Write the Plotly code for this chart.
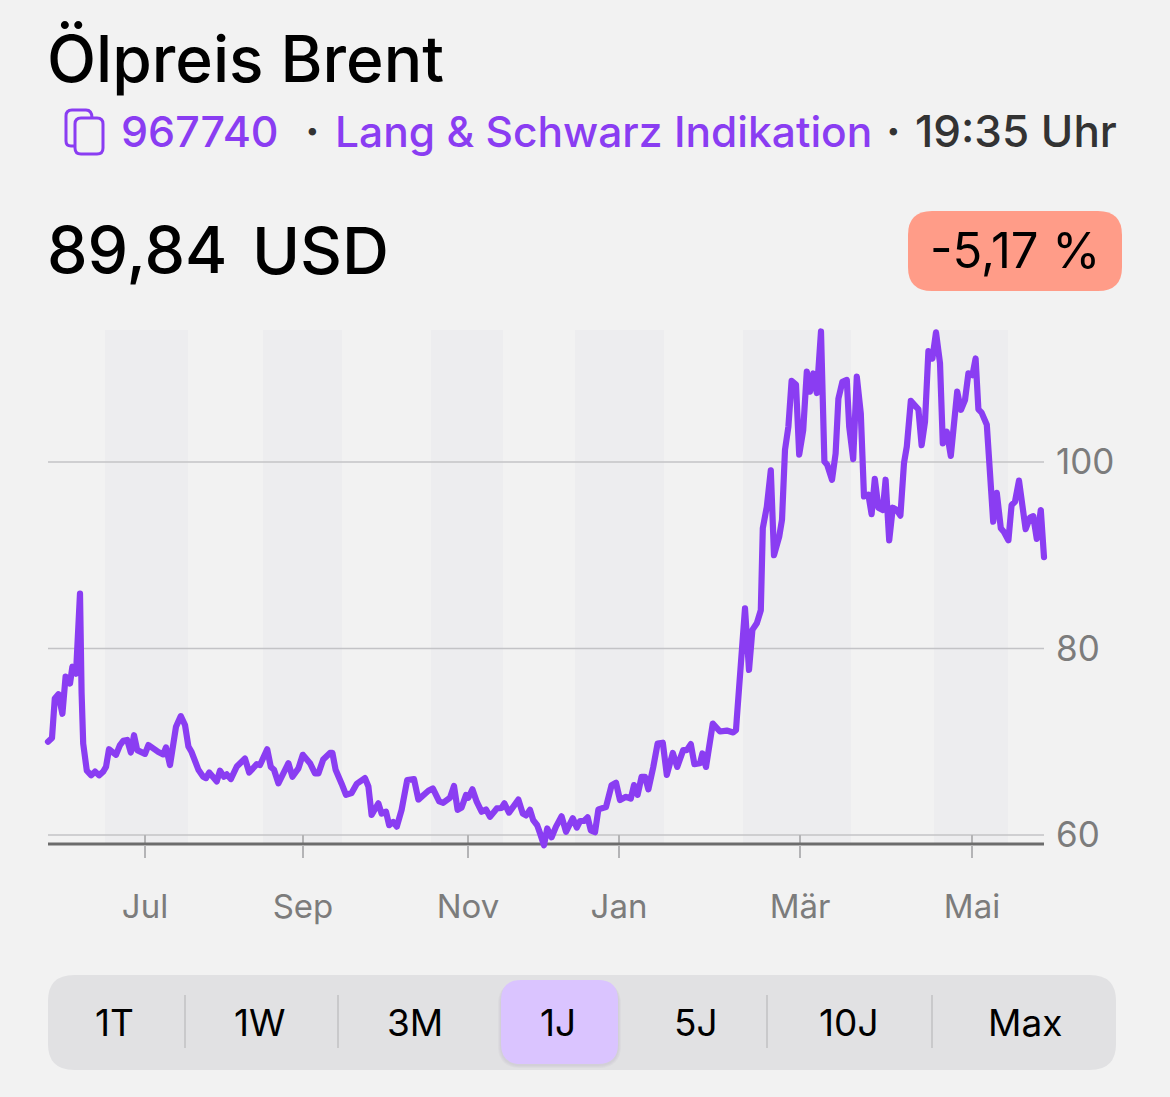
import plotly.graph_objects as go

W = 1170
H = 1097

# trading day position along the axis and brent price
days = [0, 1, 1.7, 2.6, 3.6, 4.4, 5.5, 6.1, 7, 8, 8.4, 8.8, 9.7, 10.8, 11.75, 12.75, 13.8, 14.5, 15.25, 17,
        18, 18.8, 19.8, 20.7, 21.5, 22.3, 24.25, 25.1, 27.6, 28.8, 29.5, 30.5, 32, 33.2, 34.25, 35.1, 35.9, 37.6, 38.8, 39.5,
        40.3, 42.2, 43, 44, 44.7, 45.7, 47.2, 49.25, 50.3, 52.2, 53, 54.8, 55.7, 56.5, 57.6, 60.1, 61.1, 62.6, 63.7, 65.5,
        66.75, 67.6, 68.8, 70.5, 71.1, 71.9, 73.4, 74.5, 75.9, 77.2, 79.25, 80.1, 80.9, 82.6, 83.4, 84.5, 85.3, 86.3, 87.2, 88.4,
        89.8, 91.5, 92.6, 93.7, 95.1, 96.2, 97.8, 98.8, 100.5, 101.5, 102.4, 103.4, 104.5, 105.1, 106.1, 107.2, 108.4, 109.5, 110.5, 112.2,
        113.4, 114.1, 115.25, 117.6, 118.7, 119.5, 120.5, 121.3, 122.3, 123, 124, 124.8, 125.9, 127, 128.4, 129.5, 131.2, 132.2, 133, 134,
        134.9, 135.7, 136.75, 137.6, 138.8, 139.5, 140.9, 142, 143, 144.5, 145.7, 146.5, 147.4, 148.4, 149.25, 150.1, 151.3, 152.4, 153.7, 154.7,
        156.2, 157.3, 158.8, 159.7, 160.7, 161.6, 163, 163.6, 164.5, 166.2, 168, 169.7, 171.3, 172, 172.2, 172.8, 174.25, 175.25, 176.1, 177.2,
        178.2, 178.7, 179.7, 180.7, 181.5, 182.8, 183.5, 184.25, 185.1, 185.9, 187, 187.8, 188.8, 189.7, 190.5, 191.3, 192.2, 193.25, 194.1, 194.8,
        196, 196.9, 197.6, 198.6, 199.7, 200.3, 201.3, 202.2, 203.2, 204, 205.1, 205.9, 206.7, 207.6, 208.7, 209.4, 210.3, 211.2, 212.2, 213.1,
        214, 214.7, 215.7, 217.6, 218.4, 219.25, 220.1, 221.1, 222, 223, 223.7, 224.7, 225.7, 227.3, 228.25, 229.25, 230.1, 231.1, 231.9, 232.6,
        233.4, 234.7, 236.3, 237.2, 238.2, 239, 240.1, 240.9, 241.75, 242.75, 244.4, 245.5, 246.3, 247.2, 248.2, 249]
prices = [70.0, 70.4, 74.65, 75.1, 73.0, 77.0, 76.25, 78.05, 77.3, 85.9, 75.2, 69.8, 66.9, 66.4, 66.8, 66.4, 66.8, 67.3, 69.2, 68.6,
          69.65, 70.1, 70.2, 68.85, 70.7, 69.1, 68.7, 69.65, 68.9, 68.65, 69.4, 67.5, 71.6, 72.75, 71.8, 69.5, 68.9, 67.0, 66.25, 66.1,
          66.7, 65.75, 66.9, 66.25, 66.5, 66.0, 67.35, 68.2, 66.7, 67.6, 67.5, 69.2, 67.3, 67.0, 65.55, 67.7, 66.25, 67.15, 68.6, 67.7,
          66.6, 66.6, 68.1, 68.8, 68.8, 67.0, 65.5, 64.3, 64.5, 65.5, 66.1, 65.2, 62.15, 63.4, 62.3, 62.5, 61.05, 61.4, 60.9, 62.7,
          65.9, 66.0, 63.8, 64.3, 64.75, 65.0, 63.6, 63.45, 64.0, 65.25, 62.7, 62.95, 64.3, 64.0, 64.9, 63.55, 62.5, 62.75, 61.95, 62.85,
          62.9, 63.4, 62.4, 63.8, 62.3, 62.1, 62.7, 61.6, 61.05, 60.2, 58.9, 60.7, 59.75, 60.9, 62.0, 60.35, 61.8, 60.8, 61.5, 61.5,
          61.9, 60.5, 60.3, 62.75, 63.0, 63.0, 65.35, 65.6, 63.75, 64.1, 63.9, 65.35, 64.3, 66.25, 66.25, 64.9, 67.25, 69.8, 69.9, 66.45,
          68.8, 67.3, 69.1, 69.1, 69.75, 67.6, 67.7, 68.75, 67.3, 71.95, 71.1, 71.2, 71.0, 71.25, 72.5, 75.9, 84.3, 77.7, 82.0, 82.7,
          84.1, 92.9, 95.2, 99.1, 90.0, 92.0, 93.8, 101.3, 103.8, 108.7, 108.3, 100.8, 103.4, 109.7, 107.55, 109.5, 107.4, 114.0, 100.05, 99.7,
          98.1, 100.9, 106.8, 108.6, 108.8, 103.8, 100.3, 109.15, 105.2, 96.3, 96.5, 94.4, 98.2, 95.1, 94.85, 98.1, 91.6, 95.1, 94.85, 94.25,
          99.9, 101.65, 106.55, 105.65, 101.8, 104.3, 111.9, 111.1, 113.9, 110.6, 102.0, 103.25, 100.65, 107.55, 105.6, 106.65, 109.5, 109.3, 111.1, 105.65,
          105.3, 104.0, 93.6, 96.7, 92.9, 92.5, 91.6, 95.4, 95.75, 98.0, 92.8, 94.05, 94.2, 91.75, 94.85, 89.8]

price_ticks = [60, 80, 100]
month_ticks = [24.25, 63.75, 105, 142.75, 188, 231]
month_labels = ['Jul', 'Sep', 'Nov', 'Jan', 'Mär', 'Mai']
band_starts = [14.25, 53.75, 95.75, 131.75, 173.75, 221.5]
band_ends = [35, 73.5, 113.75, 154, 200.75, 240]
ranges = ['1T', '1W', '3M', '1J', '5J', '10J', 'Max']
range_centers = [114, 260, 415, 558, 696, 849, 1025]
range_dividers = [185, 338, 767, 932]

AXIS_BOTTOM = 59.03
AXIS_TOP = 114.16
PURPLE = '#8a3df2'
FONT = 'Inter'


def px(x):
    return x / W


def py(y):
    return 1 - y / H


def rounded(x0, y0, x1, y1, r):
    # svg path of a rounded box, in paper fractions
    pts = [('M', x0 + r, y0), ('L', x1 - r, y0), ('Q', x1, y0, x1, y0 + r), ('L', x1, y1 - r),
           ('Q', x1, y1, x1 - r, y1), ('L', x0 + r, y1), ('Q', x0, y1, x0, y1 - r), ('L', x0, y0 + r),
           ('Q', x0, y0, x0 + r, y0)]
    out = ''
    for p in pts:
        out += p[0]
        vals = p[1:]
        out += ' '.join(f'{px(vals[i]):.5f},{py(vals[i + 1]):.5f}' for i in range(0, len(vals), 2)) + ' '
    return out + 'Z'


def box(x0, y0, x1, y1, r, color, opacity=1):
    return dict(type='path', xref='paper', yref='paper', path=rounded(x0, y0, x1, y1, r),
                fillcolor=color, opacity=opacity, line_width=0, layer='below')


def label(text, x, y, size, color='#000000', anchor='left', weight=400):
    return dict(text=text, x=px(x), y=py(y), xref='paper', yref='paper', xanchor=anchor, yanchor='middle',
                showarrow=False, font=dict(family=FONT, size=size, color=color, weight=weight))


fig = go.Figure()
fig.add_trace(go.Scatter(x=days, y=prices, mode='lines', hoverinfo='skip',
                         line=dict(color=PURPLE, width=6.2)))

shapes = []
for x0, x1 in zip(band_starts, band_ends):
    shapes.append(dict(type='rect', xref='x', yref='y', x0=x0, x1=x1, y0=AXIS_BOTTOM, y1=AXIS_TOP,
                       fillcolor='#ededef', line_width=0, layer='below'))
for v in price_ticks:
    shapes.append(dict(type='line', xref='x', yref='y', x0=0, x1=249, y0=v, y1=v,
                       line=dict(color='#c3c3c6', width=1.5), layer='below'))
for t in month_ticks:
    shapes.append(dict(type='line', xref='x', yref='y', x0=t, x1=t, y0=AXIS_BOTTOM, y1=60,
                       line=dict(color='#b4b4b6', width=2), layer='below'))
shapes.append(dict(type='line', xref='x', yref='y', x0=0, x1=249, y0=AXIS_BOTTOM, y1=AXIS_BOTTOM,
                   line=dict(color='#6c6c6c', width=3), layer='below'))

# change badge and range selector
shapes.append(box(908, 211, 1122, 291, 24, '#ff9c88'))
shapes.append(box(48, 975, 1116, 1070, 26, '#e1e1e3'))
for g in [3, 2, 1]:
    shapes.append(box(501 - g, 982, 618 + g, 1064 + g + 1, 20 + g, '#9a94a6', 0.07))
shapes.append(box(501, 980, 618, 1064, 20, '#dac4ff'))
for d in range_dividers:
    shapes.append(dict(type='line', xref='paper', yref='paper', x0=px(d), x1=px(d), y0=py(995), y1=py(1048),
                       line=dict(color='#c9c9cb', width=2), layer='below'))

# copy icon next to the wkn
shapes.append(dict(type='path', xref='paper', yref='paper', line=dict(color=PURPLE, width=3),
                   path=rounded(75, 118, 103, 154, 6)))
shapes.append(dict(type='path', xref='paper', yref='paper', line=dict(color=PURPLE, width=3),
                   path=f'M{px(74):.5f},{py(146):.5f} L{px(71):.5f},{py(146):.5f} Q{px(66):.5f},{py(146):.5f} {px(66):.5f},{py(141):.5f} '
                        f'L{px(66):.5f},{py(116):.5f} Q{px(66):.5f},{py(110):.5f} {px(72):.5f},{py(110):.5f} '
                        f'L{px(86):.5f},{py(110):.5f} Q{px(92):.5f},{py(110):.5f} {px(92):.5f},{py(118):.5f}'))

annotations = [
    label('Ölpreis Brent', 45, 58, 64, weight=500),
    label('967740', 119, 131, 43, PURPLE, weight=500),
    label('·', 312, 131, 44, '#333333', 'center', 700),
    label('Lang &amp; Schwarz Indikation', 333, 131, 42.5, PURPLE, weight=500),
    label('·', 893, 131, 44, '#333333', 'center', 700),
    label('19:35 Uhr', 913, 131, 44, '#333333', weight=500),
    label('89,84', 45, 250, 64.5, weight=500),
    label('USD', 250, 250, 65, weight=500),
    label('-5,17 %', 1015, 250, 49, anchor='center'),
]
for name, c in zip(ranges, range_centers):
    annotations.append(label(name, c, 1022, 37, anchor='center'))

fig.update_layout(
    width=W, height=H, margin=dict(l=0, r=0, t=0, b=0), showlegend=False,
    paper_bgcolor='#f2f2f2', plot_bgcolor='rgba(0,0,0,0)',
    shapes=shapes, annotations=annotations,
    xaxis=dict(domain=[px(42), px(1050)], range=[-1.5, 250.5], anchor='free', position=py(844),
               showgrid=False, zeroline=False, showline=False,
               tickmode='array', tickvals=month_ticks, ticktext=month_labels,
               ticks='outside', ticklen=13, tickwidth=2, tickcolor='#b4b4b6', ticklabelstandoff=20,
               tickfont=dict(family=FONT, size=33, color='#7c7c7c')),
    yaxis=dict(domain=[py(860), py(320)], range=[57.32, 115.23], side='right', anchor='free', position=px(1050),
               showgrid=False, zeroline=False, showline=False,
               tickmode='array', tickvals=price_ticks, ticks='', ticklabelstandoff=5,
               tickfont=dict(family=FONT, size=35, color='#7c7c7c')),
)

fig.write_html('out.html', config=dict(displayModeBar=False),
               post_script="document.body.style.margin='0';document.body.style.background='#f2f2f2';"
                           "document.querySelectorAll('.js-line').forEach(function(l){l.style.strokeLinejoin='round';l.style.strokeLinecap='round';});")
